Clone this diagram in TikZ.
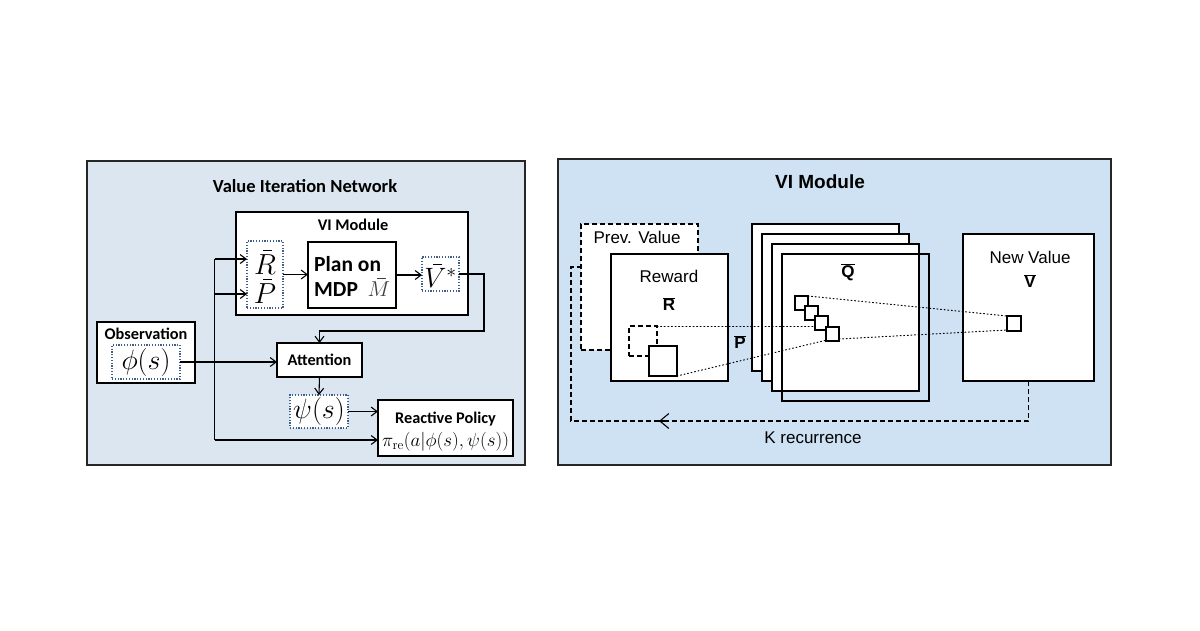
\documentclass[tikz,border=0pt]{standalone}
\usepackage{fix-cm}
\usepackage{fontspec}
\newfontfamily\calib{Carlito}
\newfontfamily\arl{Liberation Sans}
\usetikzlibrary{arrows.meta,calc}
\definecolor{lbg}{HTML}{DCE6F1}
\definecolor{rbg}{HTML}{CFE2F3}
\definecolor{dotblue}{HTML}{3F5F8A}
\definecolor{frame}{HTML}{262626}
\newcommand\boxat[6]{\node[#6, minimum width={#4-#2}, minimum height={#5-#3}] (#1) at ({(#2+#4)/2},{(#3+#5)/2}) {};}
\newcommand\sbar[1]{{\setbox0\hbox{$#1$}\rlap{\kern0.4\wd0\rule[\dimexpr\ht0+0.12em\relax]{0.42\wd0}{0.04em}}\box0}}
\tikzset{
  bx/.style={rectangle, inner sep=0pt, outer sep=0pt, draw=black, line width=1.3pt},
  dbx/.style={rectangle, inner sep=0pt, outer sep=0pt, draw=dotblue, line width=1.2pt, dash pattern=on 1.2pt off 1.6pt, fill=white},
  arr/.style={-{Straight Barb[length=6pt,width=9pt]}, line width=1.1pt},
  ln/.style={line width=1.1pt},
  lt/.style={font=\calib\bfseries\fontsize{16.3}{19}\selectfont, inner sep=0pt},
  mt/.style={font=\fontsize{28}{32}\selectfont, inner sep=0pt},
  rt/.style={font=\arl\fontsize{17}{20}\selectfont, inner sep=0pt},
  rb/.style={font=\arl\bfseries\fontsize{17}{20}\selectfont, inner sep=0pt},
  dashbx/.style={rectangle, inner sep=0pt, outer sep=0pt, draw=black, line width=1.1pt, dash pattern=on 5pt off 3pt},
  sbx/.style={rectangle, inner sep=0pt, outer sep=0pt, draw=black, line width=1.1pt, fill=white},
  dotl/.style={line width=1pt, dash pattern=on 1pt off 2.6pt, line cap=round},
  dashl/.style={line width=1.1pt, dash pattern=on 5pt off 3pt}
}
\newcommand\ovl[1]{$\overline{\hbox{#1}}$}
\begin{document}
\begin{tikzpicture}[x=1pt,y=-1pt]
\useasboundingbox[fill=white] (0,0) rectangle (1200,630);

% ---------------- Left panel ----------------
\boxat{lpanel}{87}{161}{525}{465}{bx, draw=frame, fill=lbg, line width=1.4pt}
\node[lt, font=\calib\bfseries\fontsize{18.5}{21}\selectfont] (tvin) at (305,186) {Value Iteration Network};

\boxat{vimod}{236}{212}{468}{315}{bx, fill=white}
\node[lt] (tvim) at (353,225) {VI Module};
\boxat{rp}{247}{241}{283}{308}{dbx}
\node[mt, align=center, font=\fontsize{29}{32}\selectfont] (rpbar) at (265,277) {\sbar{R}\\[-3pt]\sbar{P}};
\boxat{plan}{308}{242}{396}{308}{bx}
\node[lt, anchor=west, align=left, font=\calib\bfseries\fontsize{21.5}{25}\selectfont] (tplan) at (314,276) {Plan on\\MDP\ \ \mdseries\color{black!75}\sbar{M}};
\boxat{vstar}{422}{257}{459}{291}{dbx}
\node[mt, font=\fontsize{28}{32}\selectfont] (vst) at (440.5,276) {\sbar{V}$^{*}$};

\boxat{obs}{97}{322}{195}{383}{bx, fill=white}
\node[lt] (tobs) at (146,334) {Observation};
\boxat{phi}{112}{345}{180}{379}{dbx}
\node[mt] (tphi) at (146,362) {$\phi(s)$};

\boxat{att}{277}{343}{362}{377}{bx, fill=white}
\node[lt] (tatt) at (319.5,360) {Attention};

\boxat{psi}{290}{395}{348}{428}{dbx}
\node[mt] (tpsi) at (319,411.5) {$\psi(s)$};

\boxat{rpol}{378}{400}{513}{456}{bx, fill=white}
\node[lt] (trp) at (445.5,419) {Reactive Policy};
\node[inner sep=0pt, font=\fontsize{19}{22}\selectfont] (tpi) at (445.5,442) {$\pi_{\mathrm{re}}(a|\phi(s),\psi(s))$};

\coordinate (split) at ($(phi.east)!0.36!(phi.east -| att.west)$);
\coordinate (rin) at ($(rp.west)+(0,-15.5)$);
\coordinate (pin) at ($(rp.west)+(0,19.5)$);
\coordinate (polin) at ($(rpol.west)+(0,12)$);
\coordinate (vbend) at ($(vstar.east)+(25,0)$);
\coordinate (abend) at ($(att.north)+(0,-12)$);

\draw[arr] (rp.east) -- (rp.east -| plan.west);
\draw[arr] (plan.east) -- (plan.east -| vstar.west);
\draw[arr] (vstar.east) -- (vbend) |- (abend) -- (att.north);
\draw[arr] (phi.east) -- (phi.east -| att.west);
\draw[ln] (split |- rin) -- (split |- polin);
\draw[arr] (split |- rin) -- (rin);
\draw[arr] (split |- pin) -- (pin);
\draw[arr] (split |- polin) -- (polin);
\draw[arr] (att.south) -- (psi.north);
\draw[arr] (psi.east) -- (psi.east -| rpol.west);

% ---------------- Right panel ----------------
\boxat{rpanel}{558}{159}{1111}{465}{bx, draw=frame, fill=rbg, line width=1.4pt}
\node[inner sep=0pt, font=\arl\bfseries\fontsize{19}{22}\selectfont] (tvir) at (820,182) {VI Module};

\boxat{prev}{581}{224}{698}{350}{dashbx, fill=white}
\node[rt] (tprev) at (637,237) {Prev. Value};
\boxat{reward}{611}{254}{728}{381}{sbx, line width=1.3pt}
\node[rt] (trew) at (669,276) {Reward};
\node[rb] (trb) at (669,304) {\ovl{R}};
\boxat{dsq}{629}{326}{657}{356}{dashbx}
\boxat{ssq}{649}{346}{677}{376}{sbx}
\node[rb] (tpb) at (740,342) {\ovl{P}};

\boxat{q1}{752}{224}{899}{371}{sbx, line width=1.3pt}
\boxat{q2}{762}{234}{909}{381}{sbx, line width=1.3pt}
\boxat{q3}{772}{244}{919}{391}{sbx, line width=1.3pt}
\boxat{q4}{782}{254}{929}{401}{bx, fill=none}
\node[rb] (tqb) at (848,272) {\ovl{Q}};

\boxat{newv}{963}{234}{1094}{381}{sbx, line width=1.3pt}
\node[rt] (tnv) at (1030,257) {New Value};
\node[rb] (tvb) at (1030,281) {\ovl{V}};

\draw[dotl] (dsq.north east) -- (dsq.north east -| q4.west) -- ++(33,0);
\draw[dotl] (ssq.south east) -- (827,340);
\draw[dotl] (808,296) -- (1007,316);
\draw[dotl] (839,339) -- (1007,330);

\boxat{sq1}{795}{296}{808}{310}{sbx}
\boxat{sq2}{805}{306}{818}{320}{sbx}
\boxat{sq3}{815}{316}{828}{330}{sbx}
\boxat{sq4}{826}{327}{839}{341}{sbx}
\boxat{vsq}{1007}{316}{1021}{331}{sbx}

\coordinate (kb) at ($(newv.south)+(0,40)$);
\coordinate (kt) at (659,421);
\coordinate (kl) at (571,421);
\coordinate (pe) at ($(prev.north west)+(0,43)$);
\draw[dashl] (newv.south) -- (kb) -- (kt);
\draw[line width=1.1pt, -{Straight Barb[length=9pt,width=15pt]}] ($(kt)+(6,0)$) -- (kt);
\draw[dashl] (kt) -- (kl) |- (pe);
\node[rt] (tk) at (813,438) {K recurrence};
\end{tikzpicture}
\end{document}
